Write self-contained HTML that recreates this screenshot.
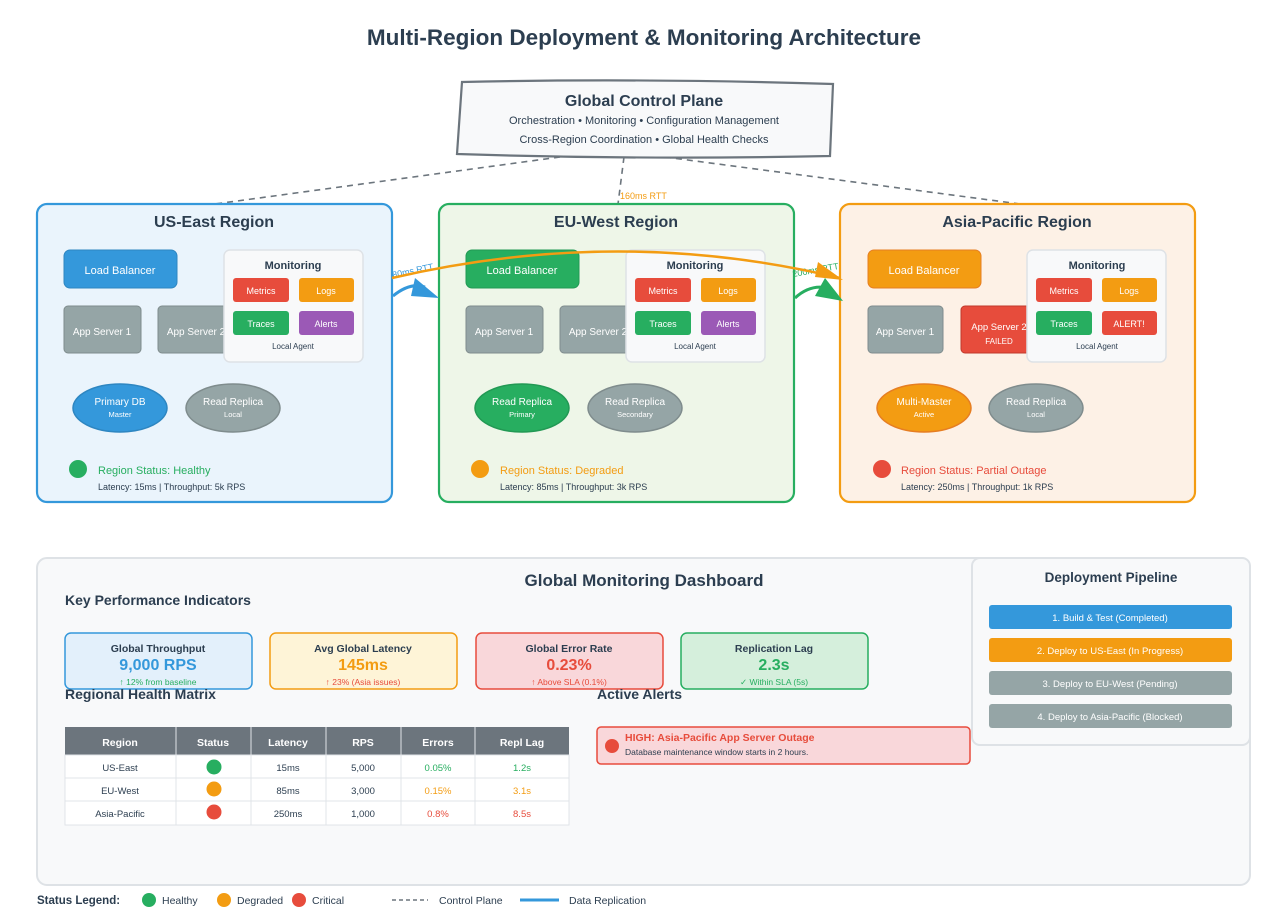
<!DOCTYPE html>
<html><head><meta charset="utf-8"><style>
body{margin:0;background:#fff}
svg{display:block;font-family:"Liberation Sans",Arial,sans-serif}
</style></head><body>
<svg width="1272" height="916" viewBox="0 0 1272 916" xmlns="http://www.w3.org/2000/svg">
<rect width="1272" height="916" fill="#fff"/>
<text x="644" y="45" text-anchor="middle" font-size="22.5" font-weight="bold" fill="#2c3e50">Multi-Region Deployment &amp; Monitoring Architecture</text>

<g stroke="#6c757d" stroke-width="1.6" stroke-dasharray="6,5" fill="none">
<path d="M560,157 L215,204"/>
<path d="M624,157 L618,204"/>
<path d="M665,157 L1020,204"/>
</g>
<text x="620" y="199" font-size="9" fill="#f39c12">160ms RTT</text>

<path d="M462,82 Q640,78 833,84 L830,156 Q640,160 457,154 Z" fill="#f8f9fa" stroke="#6c757d" stroke-width="2.2"/>
<text x="644" y="106" text-anchor="middle" font-size="16" font-weight="bold" fill="#2c3e50">Global Control Plane</text>
<text x="644" y="124" text-anchor="middle" font-size="11" fill="#2c3e50">Orchestration • Monitoring • Configuration Management</text>
<text x="644" y="143" text-anchor="middle" font-size="11" fill="#2c3e50">Cross-Region Coordination • Global Health Checks</text>

<!-- US-East -->
<rect x="37" y="204" width="355" height="298" rx="10" fill="#eaf4fc" stroke="#3498db" stroke-width="2.2"/>
<text x="214" y="227" text-anchor="middle" font-size="16" font-weight="bold" fill="#2c3e50">US-East Region</text>
<rect x="64" y="250" width="113" height="38" rx="6" fill="#3498db" stroke="#2e86c1"/>
<text x="120" y="274" text-anchor="middle" font-size="11" fill="#fff">Load Balancer</text>
<rect x="64" y="306" width="77" height="47" rx="4" fill="#95a5a6" stroke="#7f8c8d"/>
<text x="102" y="335" text-anchor="middle" font-size="10" fill="#fff">App Server 1</text>
<rect x="158" y="306" width="77" height="47" rx="4" fill="#95a5a6" stroke="#7f8c8d"/>
<text x="196" y="335" text-anchor="middle" font-size="10" fill="#fff">App Server 2</text>
<rect x="224" y="250" width="139" height="112" rx="6" fill="#f8f9fa" stroke="#dee2e6" stroke-width="1.5"/>
<text x="293" y="269" text-anchor="middle" font-size="11" font-weight="bold" fill="#2c3e50">Monitoring</text>
<rect x="233" y="278" width="56" height="24" rx="3" fill="#e74c3c"/><text x="261" y="294" text-anchor="middle" font-size="9" fill="#fff">Metrics</text>
<rect x="299" y="278" width="55" height="24" rx="3" fill="#f39c12"/><text x="326" y="294" text-anchor="middle" font-size="9" fill="#fff">Logs</text>
<rect x="233" y="311" width="56" height="24" rx="3" fill="#27ae60"/><text x="261" y="327" text-anchor="middle" font-size="9" fill="#fff">Traces</text>
<rect x="299" y="311" width="55" height="24" rx="3" fill="#9b59b6"/><text x="326" y="327" text-anchor="middle" font-size="9" fill="#fff">Alerts</text>
<text x="293" y="349" text-anchor="middle" font-size="8" fill="#2c3e50">Local Agent</text>
<ellipse cx="120" cy="408" rx="47" ry="24" fill="#3498db" stroke="#2e86c1" stroke-width="1.5"/>
<text x="120" y="405" text-anchor="middle" font-size="10" fill="#fff">Primary DB</text><text x="120" y="417" text-anchor="middle" font-size="7.5" fill="#fff">Master</text>
<ellipse cx="233" cy="408" rx="47" ry="24" fill="#95a5a6" stroke="#7f8c8d" stroke-width="1.5"/>
<text x="233" y="405" text-anchor="middle" font-size="10" fill="#fff">Read Replica</text><text x="233" y="417" text-anchor="middle" font-size="7.5" fill="#fff">Local</text>
<circle cx="78" cy="469" r="9" fill="#27ae60"/>
<text x="98" y="474" font-size="11" fill="#27ae60">Region Status: Healthy</text>
<text x="98" y="490" font-size="9" fill="#2c3e50">Latency: 15ms | Throughput: 5k RPS</text>

<!-- EU-West -->
<rect x="439" y="204" width="355" height="298" rx="10" fill="#eef6e8" stroke="#27ae60" stroke-width="2.2"/>
<text x="616" y="227" text-anchor="middle" font-size="16" font-weight="bold" fill="#2c3e50">EU-West Region</text>
<rect x="466" y="250" width="113" height="38" rx="6" fill="#27ae60" stroke="#229954"/>
<text x="522" y="274" text-anchor="middle" font-size="11" fill="#fff">Load Balancer</text>
<rect x="466" y="306" width="77" height="47" rx="4" fill="#95a5a6" stroke="#7f8c8d"/>
<text x="504" y="335" text-anchor="middle" font-size="10" fill="#fff">App Server 1</text>
<rect x="560" y="306" width="77" height="47" rx="4" fill="#95a5a6" stroke="#7f8c8d"/>
<text x="598" y="335" text-anchor="middle" font-size="10" fill="#fff">App Server 2</text>
<rect x="626" y="250" width="139" height="112" rx="6" fill="#f8f9fa" stroke="#dee2e6" stroke-width="1.5"/>
<text x="695" y="269" text-anchor="middle" font-size="11" font-weight="bold" fill="#2c3e50">Monitoring</text>
<rect x="635" y="278" width="56" height="24" rx="3" fill="#e74c3c"/><text x="663" y="294" text-anchor="middle" font-size="9" fill="#fff">Metrics</text>
<rect x="701" y="278" width="55" height="24" rx="3" fill="#f39c12"/><text x="728" y="294" text-anchor="middle" font-size="9" fill="#fff">Logs</text>
<rect x="635" y="311" width="56" height="24" rx="3" fill="#27ae60"/><text x="663" y="327" text-anchor="middle" font-size="9" fill="#fff">Traces</text>
<rect x="701" y="311" width="55" height="24" rx="3" fill="#9b59b6"/><text x="728" y="327" text-anchor="middle" font-size="9" fill="#fff">Alerts</text>
<text x="695" y="349" text-anchor="middle" font-size="8" fill="#2c3e50">Local Agent</text>
<ellipse cx="522" cy="408" rx="47" ry="24" fill="#27ae60" stroke="#229954" stroke-width="1.5"/>
<text x="522" y="405" text-anchor="middle" font-size="10" fill="#fff">Read Replica</text><text x="522" y="417" text-anchor="middle" font-size="7.5" fill="#fff">Primary</text>
<ellipse cx="635" cy="408" rx="47" ry="24" fill="#95a5a6" stroke="#7f8c8d" stroke-width="1.5"/>
<text x="635" y="405" text-anchor="middle" font-size="10" fill="#fff">Read Replica</text><text x="635" y="417" text-anchor="middle" font-size="7.5" fill="#fff">Secondary</text>
<circle cx="480" cy="469" r="9" fill="#f39c12"/>
<text x="500" y="474" font-size="11" fill="#f39c12">Region Status: Degraded</text>
<text x="500" y="490" font-size="9" fill="#2c3e50">Latency: 85ms | Throughput: 3k RPS</text>

<!-- Asia-Pacific -->
<rect x="840" y="204" width="355" height="298" rx="10" fill="#fdf1e6" stroke="#f39c12" stroke-width="2.2"/>
<text x="1017" y="227" text-anchor="middle" font-size="16" font-weight="bold" fill="#2c3e50">Asia-Pacific Region</text>
<rect x="868" y="250" width="113" height="38" rx="6" fill="#f39c12" stroke="#e67e22"/>
<text x="924" y="274" text-anchor="middle" font-size="11" fill="#fff">Load Balancer</text>
<rect x="868" y="306" width="75" height="47" rx="4" fill="#95a5a6" stroke="#7f8c8d"/>
<text x="905" y="335" text-anchor="middle" font-size="10" fill="#fff">App Server 1</text>
<rect x="961" y="306" width="77" height="47" rx="4" fill="#e74c3c" stroke="#c0392b"/>
<text x="999" y="330" text-anchor="middle" font-size="9.5" fill="#fff">App Server 2</text>
<text x="999" y="344" text-anchor="middle" font-size="8" fill="#fff">FAILED</text>
<rect x="1027" y="250" width="139" height="112" rx="6" fill="#f8f9fa" stroke="#dee2e6" stroke-width="1.5"/>
<text x="1097" y="269" text-anchor="middle" font-size="11" font-weight="bold" fill="#2c3e50">Monitoring</text>
<rect x="1036" y="278" width="56" height="24" rx="3" fill="#e74c3c"/><text x="1064" y="294" text-anchor="middle" font-size="9" fill="#fff">Metrics</text>
<rect x="1102" y="278" width="55" height="24" rx="3" fill="#f39c12"/><text x="1129" y="294" text-anchor="middle" font-size="9" fill="#fff">Logs</text>
<rect x="1036" y="311" width="56" height="24" rx="3" fill="#27ae60"/><text x="1064" y="327" text-anchor="middle" font-size="9" fill="#fff">Traces</text>
<rect x="1102" y="311" width="55" height="24" rx="3" fill="#e74c3c"/><text x="1129" y="327" text-anchor="middle" font-size="9" fill="#fff">ALERT!</text>
<text x="1097" y="349" text-anchor="middle" font-size="8" fill="#2c3e50">Local Agent</text>
<ellipse cx="924" cy="408" rx="47" ry="24" fill="#f39c12" stroke="#e67e22" stroke-width="1.5"/>
<text x="924" y="405" text-anchor="middle" font-size="10" fill="#fff">Multi-Master</text><text x="924" y="417" text-anchor="middle" font-size="7.5" fill="#fff">Active</text>
<ellipse cx="1036" cy="408" rx="47" ry="24" fill="#95a5a6" stroke="#7f8c8d" stroke-width="1.5"/>
<text x="1036" y="405" text-anchor="middle" font-size="10" fill="#fff">Read Replica</text><text x="1036" y="417" text-anchor="middle" font-size="7.5" fill="#fff">Local</text>
<circle cx="882" cy="469" r="9" fill="#e74c3c"/>
<text x="901" y="474" font-size="11" fill="#e74c3c">Region Status: Partial Outage</text>
<text x="901" y="490" font-size="9" fill="#2c3e50">Latency: 250ms | Throughput: 1k RPS</text>

<!-- replication arrows -->
<path d="M393,296 Q410,282 425,287" stroke="#3498db" stroke-width="3" fill="none"/>
<path d="M415,278 L439,298 L411,296 Z" fill="#3498db"/>
<text x="393" y="278" font-size="9" fill="#3498db" transform="rotate(-12 393 278)">80ms RTT</text>
<path d="M795,298 Q810,284 828,288" stroke="#27ae60" stroke-width="3" fill="none"/>
<path d="M825,278 L843,301 L815,296 Z" fill="#27ae60"/>
<text x="793" y="277" font-size="9" fill="#27ae60" transform="rotate(-10 793 277)">200ms RTT</text>
<path d="M392,278 Q620,225 840,278" stroke="#f39c12" stroke-width="2.5" fill="none"/>
<path d="M818,262 L843,280 L815,277 Z" fill="#f39c12"/>

<!-- dashboard -->
<rect x="37" y="558" width="1213" height="327" rx="10" fill="#f8f9fa" stroke="#dee2e6" stroke-width="2"/>
<text x="644" y="586" text-anchor="middle" font-size="17" font-weight="bold" fill="#2c3e50">Global Monitoring Dashboard</text>
<text x="65" y="605" font-size="14" font-weight="bold" fill="#2c3e50">Key Performance Indicators</text>

<rect x="65" y="633" width="187" height="56" rx="6" fill="#e3f0fb" stroke="#3498db" stroke-width="1.5"/>
<text x="158" y="652" text-anchor="middle" font-size="10.5" font-weight="bold" fill="#2c3e50">Global Throughput</text>
<text x="158" y="670" text-anchor="middle" font-size="16" font-weight="bold" fill="#3498db">9,000 RPS</text>
<text x="158" y="685" text-anchor="middle" font-size="8.5" fill="#27ae60">↑ 12% from baseline</text>
<rect x="270" y="633" width="187" height="56" rx="6" fill="#fef4d7" stroke="#f39c12" stroke-width="1.5"/>
<text x="363" y="652" text-anchor="middle" font-size="10.5" font-weight="bold" fill="#2c3e50">Avg Global Latency</text>
<text x="363" y="670" text-anchor="middle" font-size="16" font-weight="bold" fill="#f39c12">145ms</text>
<text x="363" y="685" text-anchor="middle" font-size="8.5" fill="#e74c3c">↑ 23% (Asia issues)</text>
<rect x="476" y="633" width="187" height="56" rx="6" fill="#f9d7da" stroke="#e74c3c" stroke-width="1.5"/>
<text x="569" y="652" text-anchor="middle" font-size="10.5" font-weight="bold" fill="#2c3e50">Global Error Rate</text>
<text x="569" y="670" text-anchor="middle" font-size="16" font-weight="bold" fill="#e74c3c">0.23%</text>
<text x="569" y="685" text-anchor="middle" font-size="8.5" fill="#e74c3c">↑ Above SLA (0.1%)</text>
<rect x="681" y="633" width="187" height="56" rx="6" fill="#d5efdc" stroke="#27ae60" stroke-width="1.5"/>
<text x="774" y="652" text-anchor="middle" font-size="10.5" font-weight="bold" fill="#2c3e50">Replication Lag</text>
<text x="774" y="670" text-anchor="middle" font-size="16" font-weight="bold" fill="#27ae60">2.3s</text>
<text x="774" y="685" text-anchor="middle" font-size="8.5" fill="#27ae60">✓ Within SLA (5s)</text>

<text x="65" y="699" font-size="14" font-weight="bold" fill="#2c3e50">Regional Health Matrix</text>
<text x="597" y="699" font-size="14" font-weight="bold" fill="#2c3e50">Active Alerts</text>

<rect x="65" y="727" width="504" height="28" fill="#6c757d"/>
<rect x="65" y="755" width="504" height="70" fill="#fff" stroke="#e1e4e8"/>
<g stroke="#e1e4e8" stroke-width="1">
<line x1="65" y1="778" x2="569" y2="778"/><line x1="65" y1="801" x2="569" y2="801"/>
<line x1="176" y1="727" x2="176" y2="825"/><line x1="251" y1="727" x2="251" y2="825"/>
<line x1="326" y1="727" x2="326" y2="825"/><line x1="401" y1="727" x2="401" y2="825"/>
<line x1="475" y1="727" x2="475" y2="825"/>
</g>
<g font-size="10.5" font-weight="bold" fill="#fff" text-anchor="middle">
<text x="120" y="746">Region</text><text x="213" y="746">Status</text><text x="288" y="746">Latency</text><text x="363" y="746">RPS</text><text x="438" y="746">Errors</text><text x="522" y="746">Repl Lag</text>
</g>
<g font-size="9.5" fill="#2c3e50" text-anchor="middle">
<text x="120" y="771">US-East</text><text x="288" y="771">15ms</text><text x="363" y="771">5,000</text>
<text x="120" y="794">EU-West</text><text x="288" y="794">85ms</text><text x="363" y="794">3,000</text>
<text x="120" y="817">Asia-Pacific</text><text x="288" y="817">250ms</text><text x="363" y="817">1,000</text>
<text x="438" y="771" fill="#27ae60">0.05%</text><text x="522" y="771" fill="#27ae60">1.2s</text>
<text x="438" y="794" fill="#f39c12">0.15%</text><text x="522" y="794" fill="#f39c12">3.1s</text>
<text x="438" y="817" fill="#e74c3c">0.8%</text><text x="522" y="817" fill="#e74c3c">8.5s</text>
</g>
<circle cx="214" cy="767" r="7.5" fill="#27ae60"/><circle cx="214" cy="789" r="7.5" fill="#f39c12"/><circle cx="214" cy="812" r="7.5" fill="#e74c3c"/>

<rect x="597" y="727" width="373" height="37" rx="4" fill="#f9d7da" stroke="#e74c3c" stroke-width="1.5"/>
<circle cx="612" cy="746" r="7" fill="#e74c3c"/>
<text x="625" y="741" font-size="10.5" font-weight="bold" fill="#e74c3c">HIGH: Asia-Pacific App Server Outage</text>
<text x="625" y="755" font-size="8.5" fill="#2c3e50">Database maintenance window starts in 2 hours.</text>

<rect x="972" y="558" width="278" height="187" rx="8" fill="#f8f9fa" stroke="#dee2e6" stroke-width="2"/>
<text x="1111" y="582" text-anchor="middle" font-size="13.5" font-weight="bold" fill="#2c3e50">Deployment Pipeline</text>
<rect x="989" y="605" width="243" height="24" rx="3" fill="#3498db"/><text x="1110" y="621" text-anchor="middle" font-size="9.5" fill="#fff">1. Build &amp; Test (Completed)</text>
<rect x="989" y="638" width="243" height="24" rx="3" fill="#f39c12"/><text x="1110" y="654" text-anchor="middle" font-size="9.5" fill="#fff">2. Deploy to US-East (In Progress)</text>
<rect x="989" y="671" width="243" height="24" rx="3" fill="#95a5a6"/><text x="1110" y="687" text-anchor="middle" font-size="9.5" fill="#fff">3. Deploy to EU-West (Pending)</text>
<rect x="989" y="704" width="243" height="24" rx="3" fill="#95a5a6"/><text x="1110" y="720" text-anchor="middle" font-size="9.5" fill="#fff">4. Deploy to Asia-Pacific (Blocked)</text>

<text x="37" y="904" font-size="11.5" font-weight="bold" fill="#2c3e50">Status Legend:</text>
<circle cx="149" cy="900" r="7" fill="#27ae60"/><text x="162" y="904" font-size="10.5" fill="#2c3e50">Healthy</text>
<circle cx="224" cy="900" r="7" fill="#f39c12"/><text x="237" y="904" font-size="10.5" fill="#2c3e50">Degraded</text>
<circle cx="299" cy="900" r="7" fill="#e74c3c"/><text x="312" y="904" font-size="10.5" fill="#2c3e50">Critical</text>
<line x1="392" y1="900" x2="428" y2="900" stroke="#6c757d" stroke-width="1.6" stroke-dasharray="4,3"/>
<text x="439" y="904" font-size="10.5" fill="#2c3e50">Control Plane</text>
<line x1="520" y1="900" x2="559" y2="900" stroke="#3498db" stroke-width="3"/>
<text x="569" y="904" font-size="10.5" fill="#2c3e50">Data Replication</text>
</svg>
</body></html>
